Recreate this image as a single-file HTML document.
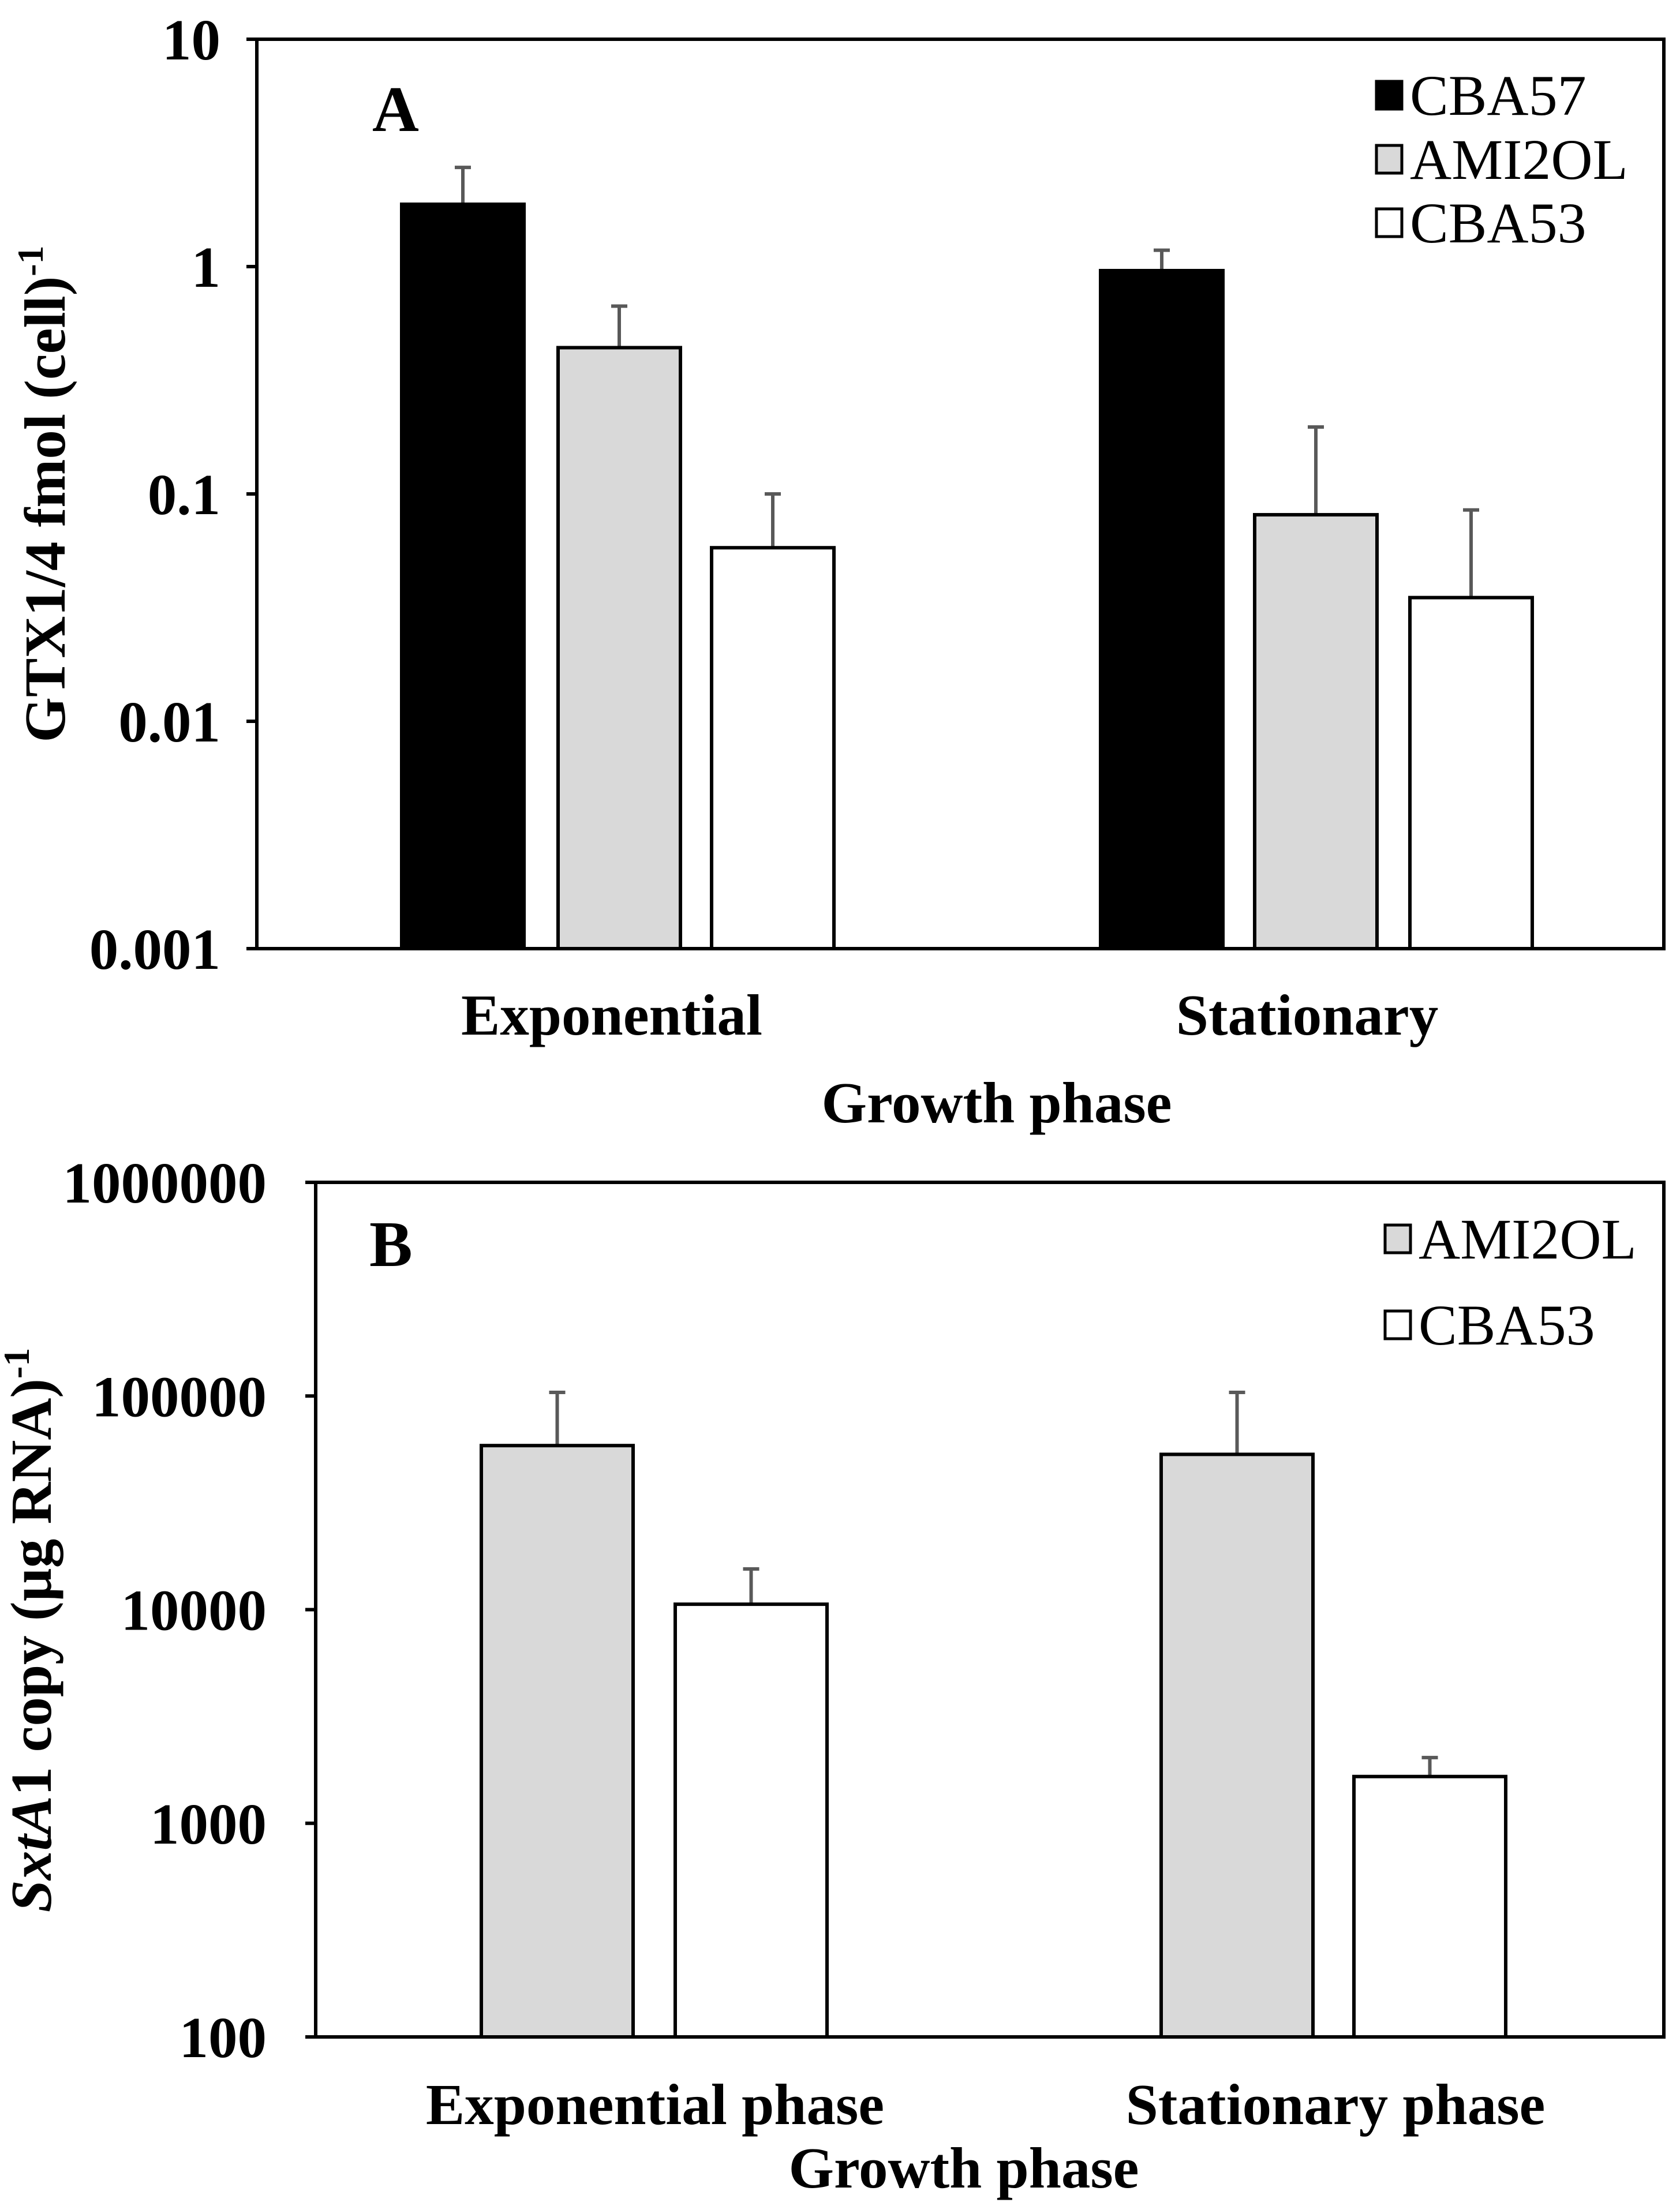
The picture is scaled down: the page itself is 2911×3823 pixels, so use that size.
<!DOCTYPE html>
<html><head><meta charset="utf-8"><style>
html,body{margin:0;padding:0;background:#fff;}
svg{display:block;font-family:"Liberation Serif",serif;}
</style></head><body>
<svg id="chart" width="2911" height="3823" viewBox="0 0 2911 3823" xmlns="http://www.w3.org/2000/svg">
<g id="pA"></g>
<g id="pB"></g>
</svg>
<script>
// Panel A data
const catsA = ["Exponential", "Stationary"];
const seriesA = ["CBA57", "AMI2OL", "CBA53"];
const valsA_CBA57 = [1.88, 0.96];
const valsA_AMI2OL = [0.44, 0.081];
const valsA_CBA53 = [0.058, 0.035];
const errA_CBA57 = [0.85, 0.22];
const errA_AMI2OL = [0.23, 0.116];
const errA_CBA53 = [0.042, 0.05];
const ticksA = ["0.001", "0.01", "0.1", "1", "10"];
// Panel B data
const catsB = ["Exponential phase", "Stationary phase"];
const seriesB = ["AMI2OL", "CBA53"];
const valsB_AMI2OL = [58600, 53300];
const valsB_CBA53 = [10600, 1655];
const errB_AMI2OL = [45400, 50700];
const errB_CBA53 = [4900, 375];
const ticksB = ["100", "1000", "10000", "100000", "1000000"];

const NS = "http://www.w3.org/2000/svg";
function mk(parent, tag, attrs, text) {
  const e = document.createElementNS(NS, tag);
  for (const k in attrs) e.setAttribute(k, attrs[k]);
  if (text !== undefined) e.textContent = text;
  parent.appendChild(e);
  return e;
}
const fills = {"CBA57": "#000", "AMI2OL": "#d9d9d9", "CBA53": "#fff"};

function panel(g, o) {
  const yScale = v => o.bottom - (Math.log10(v) - o.minLog) / (o.maxLog - o.minLog) * (o.bottom - o.top);
  const fr = mk(g, "rect", {x: o.left, y: o.top, width: o.right - o.left, height: o.bottom - o.top, fill: "none", stroke: "#000", "stroke-width": 6});
  
  
  o.ticks.forEach((t, i) => {
    const y = yScale(Number(t));
    const tk = mk(g, "line", {x1: o.left - 18, x2: o.left, y1: y, y2: y, stroke: "#000", "stroke-width": 6});
    
    
    const tl = mk(g, "text", {x: o.tickX, y: y + 35, "text-anchor": "end", "font-size": 101, "font-weight": "bold"}, t);
    
    
  });
  o.cats.forEach((c, ci) => {
    o.series.forEach((s, si) => {
      const x0 = o.barX[ci][si], v = o.vals[si][ci], e = o.errs[si][ci];
      const y = yScale(v);
      const cx = x0 + o.barW / 2;
      const ey = yScale(v + e);
      const el = mk(g, "line", {x1: cx, x2: cx, y1: y, y2: ey, stroke: "#595959", "stroke-width": 6});
      
      
      const ec = mk(g, "line", {x1: cx - 14, x2: cx + 14, y1: ey, y2: ey, stroke: "#595959", "stroke-width": 6});
      
      
      const b = mk(g, "rect", {x: x0, y: y, width: o.barW, height: o.bottom - y, fill: fills[s], stroke: "#000", "stroke-width": 6});
      
      
    });
    const cl = mk(g, "text", {x: o.catX[ci], y: o.catY, "text-anchor": "middle", "font-size": 101, "font-weight": "bold"}, c);
    
    
  });
  o.series.forEach((s, si) => {
    const ly = o.legY[si];
    const sq = mk(g, "rect", {x: o.legX, y: ly - 24, width: 44, height: 48, fill: fills[s], stroke: "#000", "stroke-width": 5});
    
    
    const lt = mk(g, "text", {x: o.legX + 58, y: ly + 34, "font-size": 100}, s);
    
    
  });
  const pl = mk(g, "text", {x: o.labX, y: o.labY, "font-size": 112, "font-weight": "bold"}, o.label);
  
  
  const xt = mk(g, "text", {x: o.xtX, y: o.xtY, "text-anchor": "middle", "font-size": 101, "font-weight": "bold"}, "Growth phase");
  
  
  const yt = mk(g, "text", {x: 0, y: 0, "text-anchor": "middle", "font-size": 101, "font-weight": "bold", transform: `translate(${o.ytX},${o.ytY}) rotate(-90)`});
  
  
  o.ytitle(yt);
}

panel(document.getElementById("pA"), {
  left: 445, right: 2883, top: 68, bottom: 1644, minLog: -3, maxLog: 1,
  ticks: ticksA, tickX: 382, cats: catsA, series: seriesA,
  vals: [valsA_CBA57, valsA_AMI2OL, valsA_CBA53], errs: [errA_CBA57, errA_AMI2OL, errA_CBA53],
  barX: [[696, 967, 1233], [1907, 2174, 2443]], barW: 212,
  catX: [1060, 2265], catY: 1793, legX: 2385, legY: [165, 276, 386],
  label: "A", labX: 645, labY: 227, xtX: 1727, xtY: 1945, ytX: 112, ytY: 856,
  ytitle: t => { t.textContent = "GTX1/4 fmol (cell)"; mk(t, "tspan", {dy: -38, "font-size": 64}, "-1"); }
});
panel(document.getElementById("pB"), {
  left: 547, right: 2883, top: 2049, bottom: 3530, minLog: 2, maxLog: 6,
  ticks: ticksB, tickX: 462, cats: catsB, series: seriesB,
  vals: [valsB_AMI2OL, valsB_CBA53], errs: [errB_AMI2OL, errB_CBA53],
  barX: [[834, 1170], [2012, 2346]], barW: 263,
  catX: [1135, 2314], catY: 3681, legX: 2400, legY: [2147, 2296],
  label: "B", labX: 640, labY: 2194, xtX: 1670, xtY: 3791, ytX: 88, ytY: 2825,
  ytitle: t => { mk(t, "tspan", {"font-style": "italic"}, "SxtA"); mk(t, "tspan", {}, "1 copy (\u00b5g RNA)"); mk(t, "tspan", {dy: -38, "font-size": 64}, "-1"); }
});
</script>
</body></html>
